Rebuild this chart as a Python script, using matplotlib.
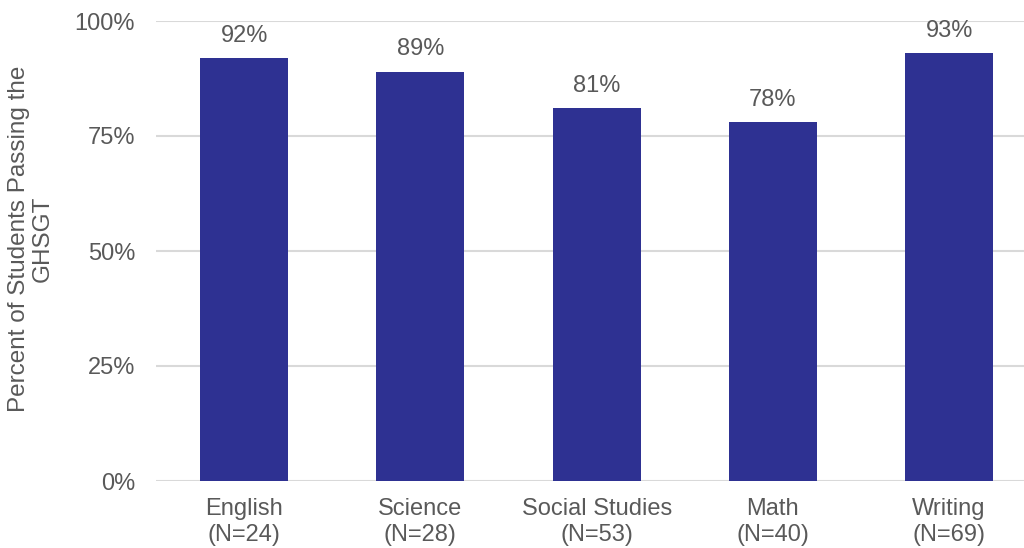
import matplotlib.pyplot as plt
from matplotlib.ticker import FuncFormatter

plt.rcParams['font.family'] = ['Liberation Sans', 'DejaVu Sans']

subjects = ["English", "Science", "Social Studies", "Math", "Writing"]
counts = [24, 28, 53, 40, 69]
pass_rate = [92, 89, 81, 78, 93]

BAR = "#2E3192"
TEXT = "#595959"
GRID = "#D9D9D9"
FS = 17

fig = plt.figure(figsize=(10.24, 5.48), dpi=100)
ax = fig.add_axes([156 / 1024, 67 / 548, 868 / 1024, 460 / 548])

x = range(len(subjects))
bars = ax.bar(x, pass_rate, width=0.5, color=BAR, zorder=3)
for b, v in zip(bars, pass_rate):
    ax.annotate(f"{v}%", (b.get_x() + b.get_width() / 2, v), xytext=(0, 8),
                textcoords="offset points", ha="center", va="bottom",
                fontsize=FS, color=TEXT, zorder=4)

ax.set_xlim(-0.5, -0.5 + 868 / 176.25)
ax.set_ylim(0, 100)
ax.set_yticks([0, 25, 50, 75, 100])
ax.yaxis.set_major_formatter(FuncFormatter(lambda v, _: f"{v:.0f}%"))
ax.set_xticks(list(x))
ax.set_xticklabels([f"{s}\n(N={n})" for s, n in zip(subjects, counts)],
                   linespacing=1.25)
ax.tick_params(axis="both", length=0, labelsize=FS, colors=TEXT)
ax.tick_params(axis="x", pad=12)
ax.tick_params(axis="y", pad=15)
ax.grid(axis="y", color=GRID, linewidth=1.5, zorder=0)
ax.set_axisbelow(True)
for s in ax.spines.values():
    s.set_visible(False)

ax.set_ylabel("Percent of Students Passing the\nGHSGT", fontsize=17.5,
              color=TEXT, linespacing=1.1)
ax.yaxis.set_label_coords(-0.118, 0.527)

fig.savefig("out.png", dpi=100)
